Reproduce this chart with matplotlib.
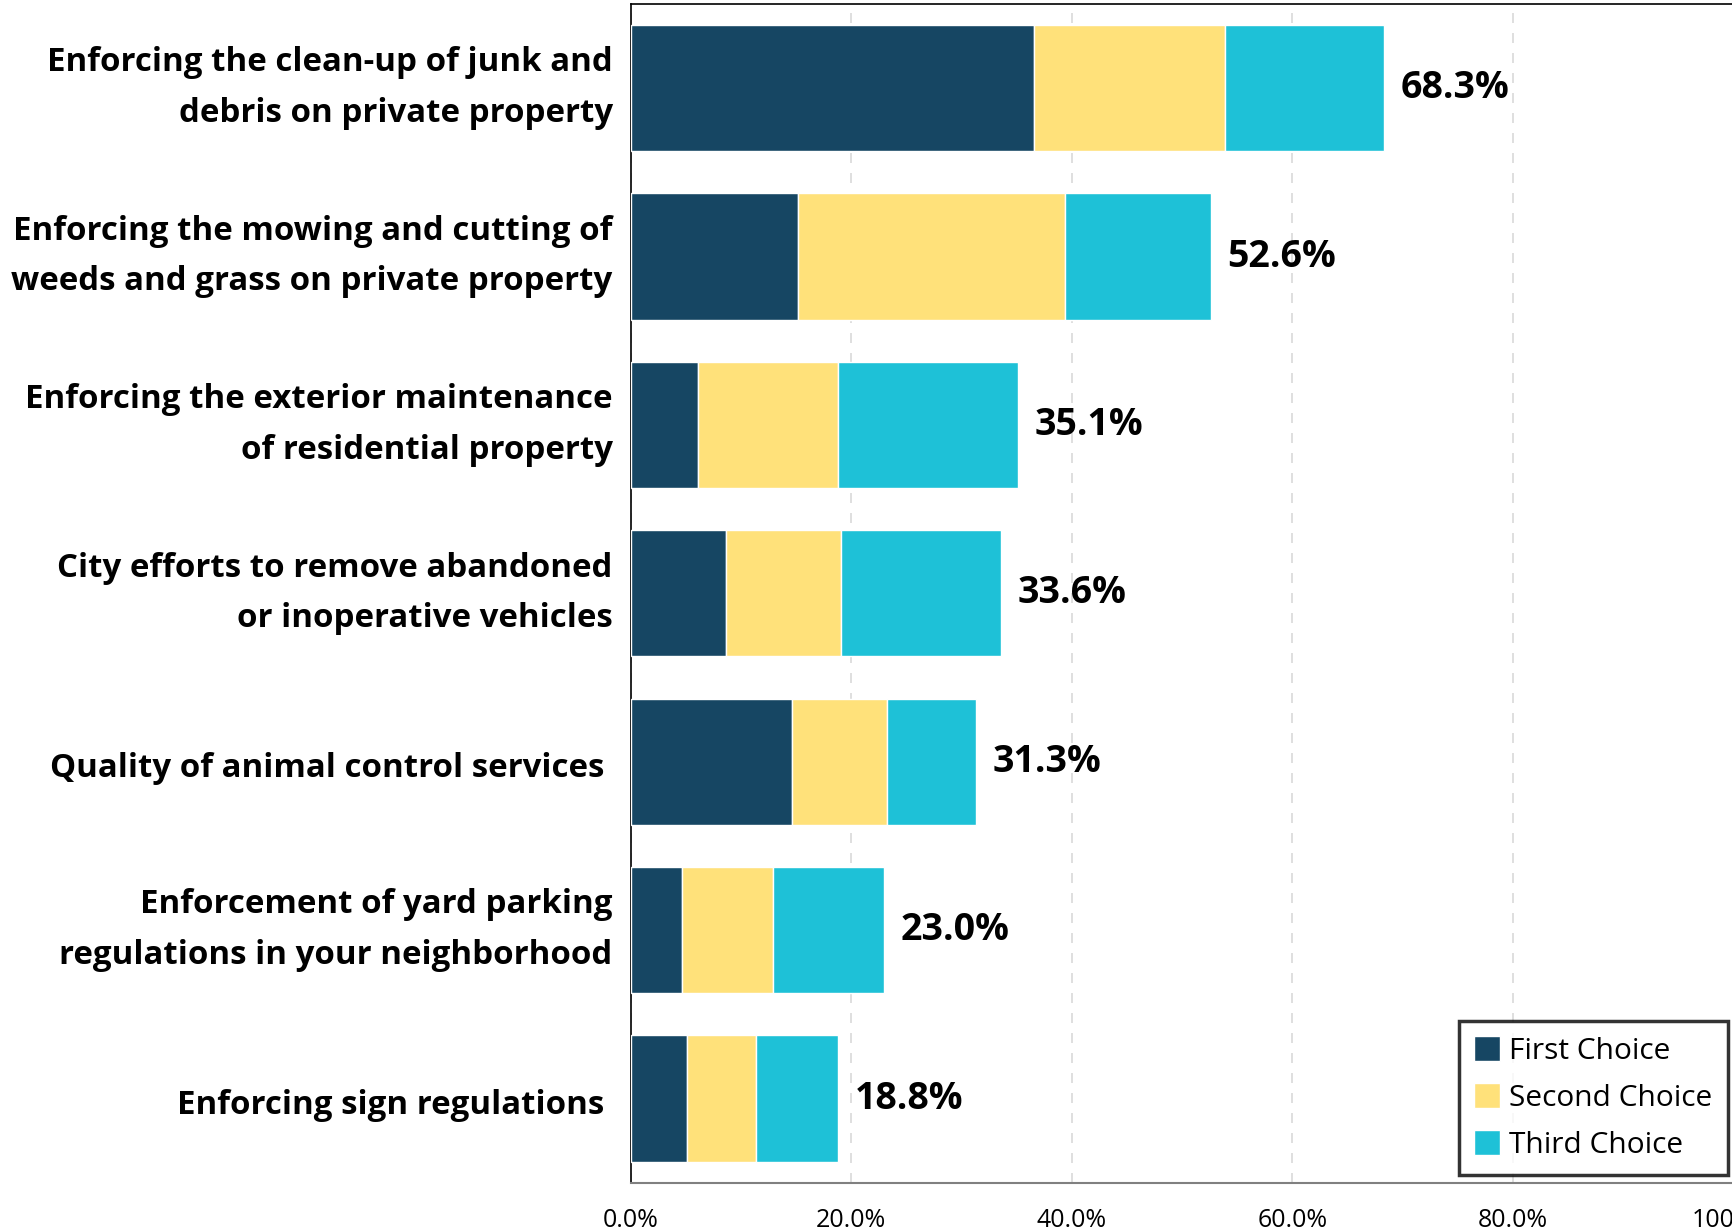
import numpy as np
import matplotlib.pyplot as plt
from matplotlib.transforms import ScaledTranslation

# Survey categories (top to bottom) and stacked shares in percent
categories = [
    "Enforcing the clean-up of junk and\ndebris on private property",
    "Enforcing the mowing and cutting of\nweeds and grass on private property",
    "Enforcing the exterior maintenance\nof residential property",
    "City efforts to remove abandoned\nor inoperative vehicles",
    "Quality of animal control services ",
    "Enforcement of yard parking\nregulations in your neighborhood",
    "Enforcing sign regulations ",
]
first_choice = [36.6, 15.2, 6.1, 8.6, 14.6, 4.7, 5.1]
second_choice = [17.3, 24.2, 12.7, 10.5, 8.6, 8.2, 6.3]
third_choice = [14.4, 13.2, 16.3, 14.5, 8.1, 10.1, 7.4]
totals = [68.3, 52.6, 35.1, 33.6, 31.3, 23.0, 18.8]
xticks = [0, 20, 40, 60, 80, 100]

series_names = ["First Choice", "Second Choice", "Third Choice"]
colors = ["#164663", "#FFE17A", "#1EC1D7"]

plt.rcParams['font.family'] = ['Open Sans', 'DejaVu Sans']

fig = plt.figure(figsize=(17.33, 12.32), dpi=100)
ax = fig.add_axes([0.3639, 0.04, 0.6365, 0.9568])

y = np.arange(len(categories))
left = np.zeros(len(categories))
for vals, name, col in zip([first_choice, second_choice, third_choice], series_names, colors):
    ax.barh(y, vals, left=left, height=0.75, color=col, edgecolor='white', linewidth=1, label=name, zorder=3)
    left += np.array(vals)

for yi, tot in zip(y, totals):
    ax.text(tot + 1.5, yi, f"{tot:.1f}%", va='center', ha='left', fontsize=27, fontweight='bold', zorder=4)

ax.set_ylim(len(categories) - 0.5, -0.5)
ax.set_xlim(0, 100)
ax.set_yticks(y)
ax.set_yticklabels([])

# category labels drawn as text to the left of the axis
label_trans = ax.get_yaxis_transform()
for yi, cat in zip(y, categories):
    dy = 0.0 if "\n" in cat else -0.07
    tr = label_trans + ScaledTranslation(-0.18, dy, fig.dpi_scale_trans)
    ax.text(0, yi, cat, transform=tr, ha='right', va='center', fontsize=23.8,
            fontweight='bold', linespacing=1.7, clip_on=False)

ax.set_xticks(xticks)
ax.set_xticklabels([f"{t:.1f}%" for t in xticks], fontsize=18)
ax.tick_params(axis='both', length=0)
ax.tick_params(axis='x', pad=18)

ax.xaxis.grid(True, linestyle=(0, (6, 6)), color='#d9d9d9', linewidth=1.2, zorder=0)
ax.set_axisbelow(True)
for side in ['left', 'top']:
    ax.spines[side].set_color('black')
    ax.spines[side].set_linewidth(1.2)
ax.spines['bottom'].set_color('#808080')
ax.spines['bottom'].set_linewidth(1.5)
ax.spines['right'].set_visible(False)

leg = ax.legend(loc='lower right', bbox_to_anchor=(1.008, -0.006), fontsize=21.5, frameon=True, fancybox=False,
                handlelength=0.9, handleheight=0.9, handletextpad=0.3, labelspacing=0.58, borderpad=0.5)
leg.get_frame().set_edgecolor('black')
leg.get_frame().set_linewidth(2.5)

fig.savefig("out.png", dpi=100)
